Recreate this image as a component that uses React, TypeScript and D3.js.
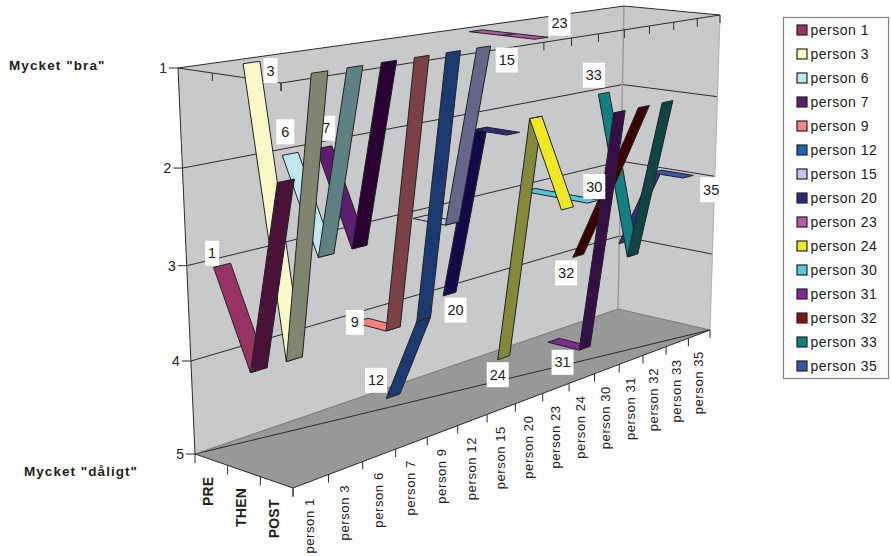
import React from "react";
import * as d3 from "d3";

const persons = ["person 1","person 3","person 6","person 7","person 9","person 12","person 15","person 20","person 23","person 24","person 30","person 31","person 32","person 33","person 35"];
const shortLabels = ["1","3","6","7","9","12","15","20","23","24","30","31","32","33","35"];
const categories = ["PRE","THEN","POST"];
const valueTicks = [1,2,3,4,5];
const scores = [[3,4,2],[1,4,1],[2,3,1],[2,3,1],[4,4,1],[5,4,1],[3,3,1],[4,2,2],[1,1,1],[5,2,3],[3,3,3],[5,5,2],[4,3,2],[2,4,2],[4,3,3]];
const colors = ["#993366","#FBF9C8","#BFE8F0","#5F1D6F","#FF8080","#2063AE","#C4C4E4","#2B2B7C","#B858A8","#F0E820","#52C8DC","#7E2A90","#8A1015","#108080","#3A55A8"];
const shades = ["#4A1238","#80856F","#5E8284","#2A0033","#7B4146","#1A3A70","#66668A","#12084A","#6E3A68","#85893A","#2A6A78","#350E45","#3A0000","#0C4744","#2F3585"];
const labelAnchor = [0,0,0,0,0,0,2,0,2,0,2,0,0,0,2];
const labelDx = [-10,19,-5,2,-6,-17,23,6,18,-6,1,9,-12,-10,23];
const labelDy = [-12,8,-22,-19,2,-16,13,16,-15,17,-15,22,17,-18,13];

const FONT = "'Liberation Sans', Arial, sans-serif";
type P = [number, number];
// cube corners on the page: [person end][depth end], floor and ceiling
const floorC: P[][] = [[[195,454],[293,488]],[[618,309],[710,330]]];
const ceilC: P[][] = [[[178,68],[281,83]],[[624,6],[720,15]]];

const bandU = d3.scaleBand<string>().domain(persons).range([0,1]);
const pointV = d3.scalePoint<string>().domain(categories).range([1/6,5/6]);
const valueW = d3.scaleLinear().domain([1,5]).range([0,1]);
const warp = (a: number) => (t: number) => (a*t)/(1+(a-1)*t);
const warpU = warp(1.306);
const warpW = warp(1.05);
const mix = (a: P, b: P, t: number): P => [a[0]+(b[0]-a[0])*t, a[1]+(b[1]-a[1])*t];
// u, v, w in 0..1
function proj(u: number, v: number, w: number): P {
  const t = warpU(u);
  const bottom = mix(mix(floorC[0][0],floorC[1][0],t),mix(floorC[0][1],floorC[1][1],t),v);
  const top = mix(mix(ceilC[0][0],ceilC[1][0],t),mix(ceilC[0][1],ceilC[1][1],t),v);
  return mix(top,bottom,warpW(w));
}
const path = (pts: P[], close = true) => d3.line()(pts)! + (close ? "Z" : "");
const Seg = ({a,b,stroke,w=1}:{a:P;b:P;stroke:string;w?:number}) => <line x1={a[0]} y1={a[1]} x2={b[0]} y2={b[1]} stroke={stroke} strokeWidth={w}/>;

export default function App() {
  const bw = bandU.bandwidth();
  const dark = "#2b2b2b";
  const W = valueW;
  const wallBack = [proj(0,0,0),proj(1,0,0),proj(1,0,1),proj(0,0,1)];
  const wallRight = [proj(1,0,0),proj(1,1,0),proj(1,1,1),proj(1,0,1)];
  const floor = [proj(0,0,1),proj(1,0,1),proj(1,1,1),proj(0,1,1)];
  const order = d3.range(persons.length).reverse();
  return (
    <svg width={891} height={556} style={{position:"absolute",left:0,top:0,fontFamily:FONT}}>
      <rect width={891} height={556} fill="#fff"/>
      <path d={path(wallBack)} fill="#C8C9CB"/>
      <path d={path(wallRight)} fill="#C8C9CB"/>
      <path d={path(floor)} fill="#97989A"/>
      {/* gridlines */}
      {valueTicks.slice(1,4).map(t=>(
        <path key={t} d={path([proj(0,0,W(t)),proj(1,0,W(t)),proj(1,1,W(t))],false)} fill="none" stroke={dark} strokeWidth={1}/>
      ))}
      <Seg a={proj(0,0,1)} b={proj(1,1,1)} stroke={dark}/>
      <Seg a={proj(0,0,1)} b={proj(1,0,1)} stroke="#777" />
      <Seg a={proj(1,0,1)} b={proj(1,1,1)} stroke="#777" />
      <Seg a={proj(1,0,0)} b={proj(1,0,1)} stroke="#9a9a9a" w={1.5}/>
      <Seg a={proj(1,1,0)} b={proj(1,1,1)} stroke="#b5b5b5" w={1.2}/>
      <path d={path([proj(0,0,1),proj(0,0,0),proj(1,0,0),proj(1,1,0),proj(0,1,0),proj(0,0,0)],false)} fill="none" stroke={dark} strokeWidth={1}/>
      <path d={path([proj(0,0,1),proj(0,1,1),proj(1,1,1)],false)} fill="none" stroke={dark} strokeWidth={1}/>
      {/* ticks on value axis */}
      {valueTicks.map(t=>{const p=proj(0,0,W(t));return (
        <g key={t}>
          <line x1={p[0]-9} x2={p[0]} y1={p[1]} y2={p[1]} stroke={dark}/>
          <text x={p[0]-11} y={p[1]+5} textAnchor="end" fontSize={14} fill="#222">{t}</text>
        </g>);})}
      {/* depth ticks */}
      {d3.range(4).map(i=>{const f=proj(0,i/3,1),c=proj(0,i/3,0);return (
        <g key={i}>
          <line x1={f[0]} x2={f[0]} y1={f[1]} y2={f[1]+9} stroke={dark}/>
          {i>0 && <line x1={c[0]} x2={c[0]} y1={c[1]} y2={c[1]+8} stroke={dark}/>}
        </g>);})}
      {/* person ticks */}
      {d3.range(persons.length+1).map(i=>{const u=i/persons.length,f=proj(u,1,1),c=proj(u,1,0);return (
        <g key={i}>
          <line x1={f[0]} x2={f[0]} y1={f[1]} y2={f[1]+8} stroke={dark}/>
          <line x1={c[0]} x2={c[0]} y1={c[1]} y2={c[1]+8} stroke={dark}/>
        </g>);})}
      {categories.map(c=>{const p=proj(0,pointV(c)!,1);return (
        <text key={c} transform={`translate(${p[0]+2},${p[1]+17}) rotate(-90)`} textAnchor="end" fontSize={14} letterSpacing={0.2} fontWeight="bold" fill="#222">{c}</text>);})}
      {persons.map(n=>{const p=proj(bandU(n)!+bw/2,1,1);return (
        <text key={n} transform={`translate(${p[0]+3.5},${p[1]+17}) rotate(-90)`} textAnchor="end" fontSize={13} letterSpacing={0.6} fill="#222">{n}</text>);})}
      {/* ribbons, far person first */}
      {order.map(i=>{
        const n=persons[i];
        const u0=bandU(n)!+bw*0.27,u1=bandU(n)!+bw*0.73,uc=bandU(n)!+bw*0.5;
        const vals=scores[i];
        const a=proj(uc,pointV(categories[labelAnchor[i]])!,W(vals[labelAnchor[i]]));
        const lx=a[0]+labelDx[i],ly=a[1]+labelDy[i];
        const bwid=shortLabels[i].length>1?22:(shortLabels[i]==="1"||shortLabels[i]==="3"?14:18);
        return (
          <g key={n}>
            {[0,1].map(s=>{
              const va=pointV(categories[s])!,vb=pointV(categories[s+1])!;
              const q=[proj(u0,va,W(vals[s])),proj(u1,va,W(vals[s])),proj(u1,vb,W(vals[s+1])),proj(u0,vb,W(vals[s+1]))];
              return <path key={s} d={path(q)} fill={vals[s+1]<vals[s]?shades[i]:colors[i]} stroke="#222" strokeWidth={1} strokeLinejoin="round"/>;
            })}
            <rect x={lx-bwid/2} y={ly-12.5} width={bwid} height={25} fill="#fff"/>
            <text x={lx} y={ly+5} textAnchor="middle" fontSize={14.5} fill="#222">{shortLabels[i]}</text>
          </g>);
      })}
      {/* axis captions */}
      <text x={9} y={70} fontSize={13.5} letterSpacing={1.1} fontWeight="bold" fill="#222">Mycket "bra"</text>
      <text x={24} y={476} fontSize={13.5} letterSpacing={1.05} fontWeight="bold" fill="#222">Mycket "dåligt"</text>
      {/* legend */}
      <rect x={783.5} y={17.5} width={105} height={361} fill="#fff" stroke="#808080" strokeWidth={1.2}/>
      {persons.map((n,i)=>{const y=30+24*i;return (
        <g key={n}>
          <rect x={797} y={y-5} width={10} height={10} fill={colors[i]} stroke="#222" strokeWidth={1.2}/>
          <text x={810.5} y={y+5} fontSize={14} letterSpacing={0.5} fill="#222">{n}</text>
        </g>);})}
    </svg>
  );
}
